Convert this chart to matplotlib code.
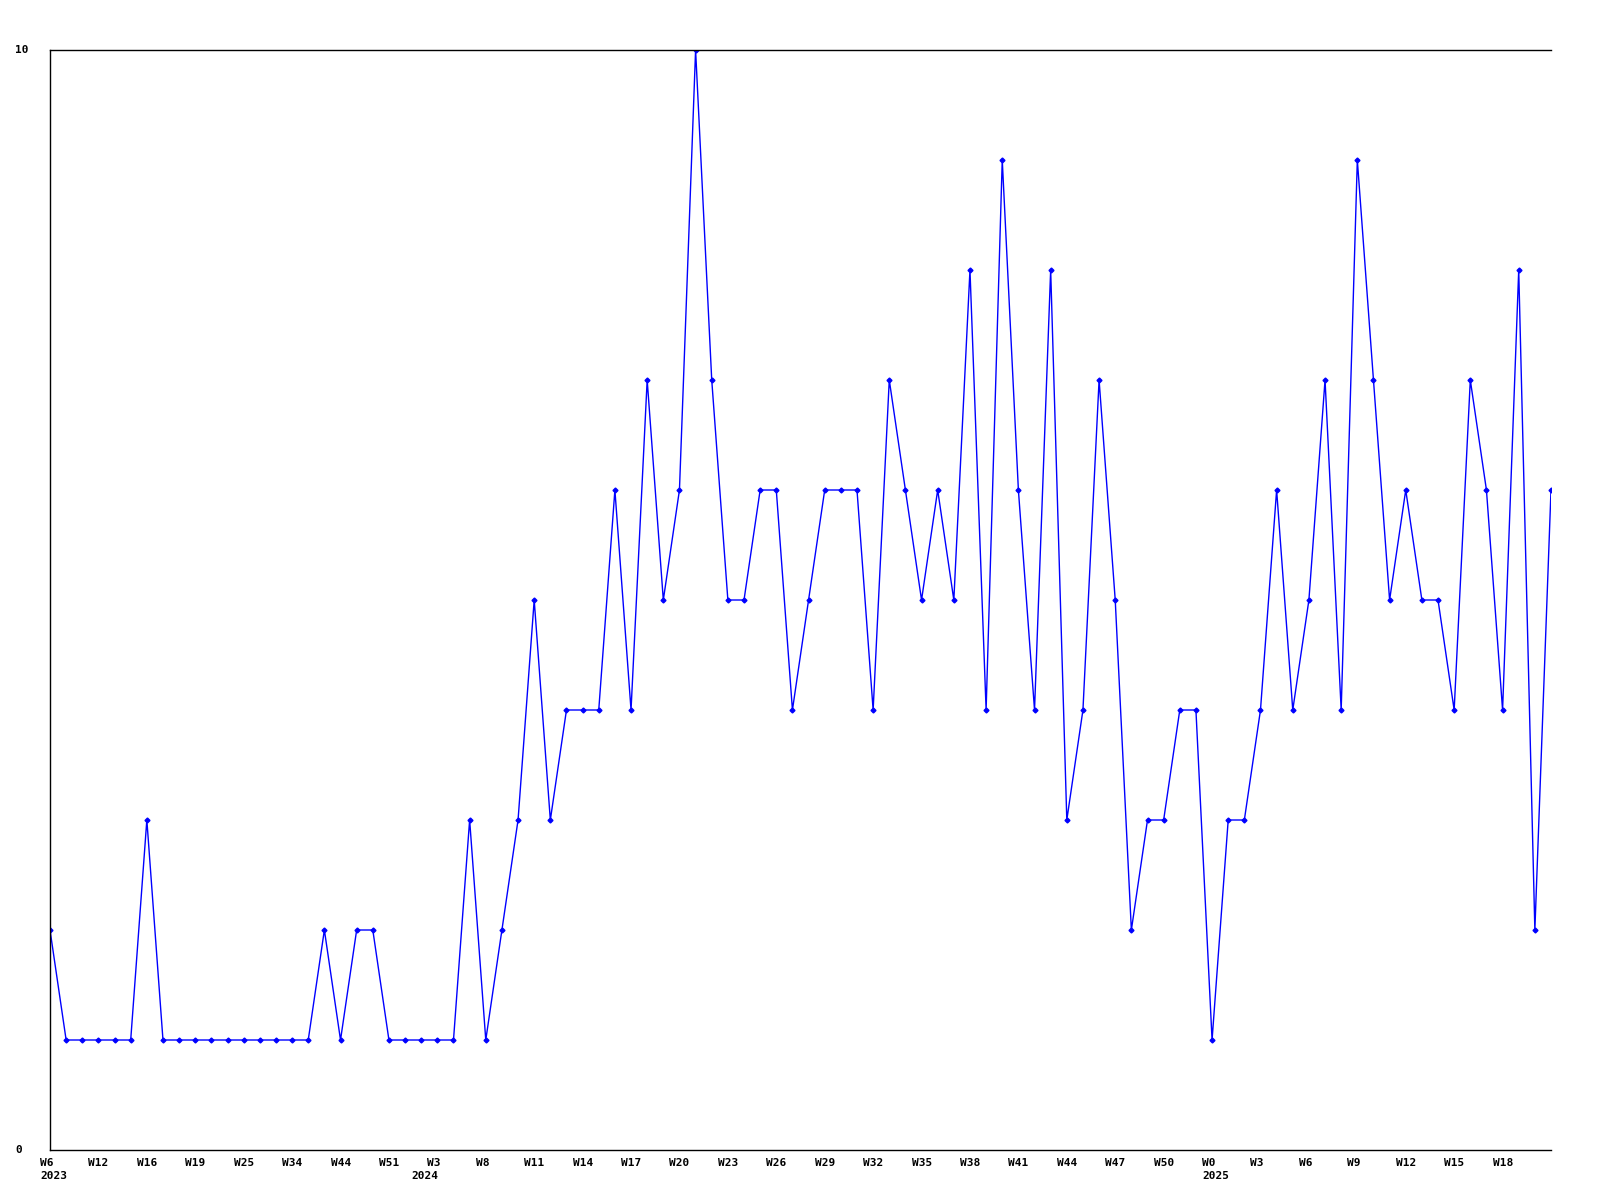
import matplotlib
matplotlib.use("Agg")
import matplotlib.pyplot as plt
import matplotlib.transforms as mtransforms

values = [2, 1, 1, 1, 1, 1, 3, 1, 1, 1,
          1, 1, 1, 1, 1, 1, 1, 2, 1, 2,
          2, 1, 1, 1, 1, 1, 3, 1, 2, 3,
          5, 3, 4, 4, 4, 6, 4, 7, 5, 6,
          10, 7, 5, 5, 6, 6, 4, 5, 6, 6,
          6, 4, 7, 6, 5, 6, 5, 8, 4, 9,
          6, 4, 8, 3, 4, 7, 5, 2, 3, 3,
          4, 4, 1, 3, 3, 4, 6, 4, 5, 7,
          4, 9, 7, 5, 6, 5, 5, 4, 7, 6,
          4, 8, 2, 6]

tick_labels = ["W6", "W12", "W16", "W19", "W25", "W34", "W44", "W51",
               "W3", "W8", "W11", "W14", "W17", "W20", "W23", "W26",
               "W29", "W32", "W35", "W38", "W41", "W44", "W47", "W50",
               "W0", "W3", "W6", "W9", "W12", "W15", "W18"]
tick_step = 3

year_labels = ["2023", "2024", "2025"]
year_positions = [0, 23, 72]

y_ticks = [0, 10]

fig = plt.figure(figsize=(16, 12), dpi=100)
ax = fig.add_axes([50 / 1600, 50 / 1200, 1501 / 1600, 1100 / 1200])

x = list(range(len(values)))
ax.plot(x, values, color="#0000ff", linewidth=1.0, marker="D",
        markersize=2.5, markerfacecolor="#0000ff", markeredgecolor="#0000ff")

ax.set_xlim(0, len(values) - 1)
ax.set_ylim(0, 10)

font = dict(family="DejaVu Sans Mono", weight="bold", size=8)

ax.set_xticks([i * tick_step for i in range(len(tick_labels))])
ax.set_xticklabels(tick_labels, ha="left", va="top", **font)
ax.set_yticks(y_ticks)
ax.set_yticklabels([str(v) for v in y_ticks], ha="left", va="center", **font)
ax.tick_params(axis="both", length=0)
ax.tick_params(axis="x", pad=6)

dx = mtransforms.ScaledTranslation(-10 / 100, 0, fig.dpi_scale_trans)
for lbl in ax.get_xticklabels():
    lbl.set_transform(lbl.get_transform() + dx)
dy = mtransforms.ScaledTranslation(-30 / 100, 0, fig.dpi_scale_trans)
for lbl in ax.get_yticklabels():
    lbl.set_transform(lbl.get_transform() + dy)

blend = mtransforms.blended_transform_factory(ax.transData, ax.transAxes)
ydx = mtransforms.ScaledTranslation(-10 / 100, -21 / 100, fig.dpi_scale_trans)
for lab, pos in zip(year_labels, year_positions):
    ax.text(pos, 0, lab, transform=blend + ydx, ha="left", va="top",
            clip_on=False, **font)

for side in ["left", "top", "bottom"]:
    ax.spines[side].set_color("black")
    ax.spines[side].set_linewidth(1.0)
ax.spines["right"].set_visible(False)

fig.savefig("out.png", dpi=100, facecolor="white")
